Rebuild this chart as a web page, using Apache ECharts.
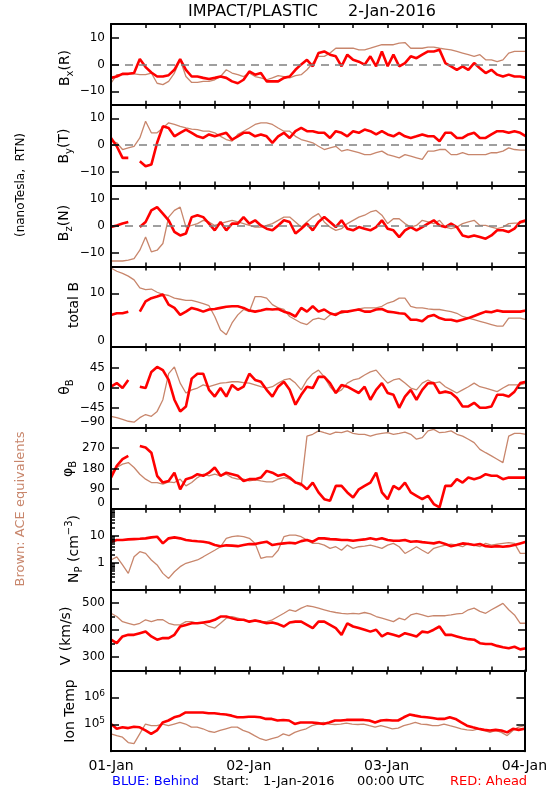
<!DOCTYPE html>
<html><head><meta charset="utf-8">
<script src="https://cdn.jsdelivr.net/npm/echarts@6/dist/echarts.min.js"></script>
<style>html,body{margin:0;padding:0;background:#fff}#c{width:550px;height:800px}</style>
</head><body><div id="c"></div>
<script>
// ---- data (hourly samples, hour 0 = 01-Jan 00:00) ----
const dayLabels = ['01-Jan', '02-Jan', '03-Jan', '04-Jan'];
const dayHours = [0, 24, 48, 72];
const tickHours = [0, 6, 12, 18, 24, 30, 36, 42, 48, 54, 60, 66, 72];
const hours = Array.from({length: 73}, (_, i) => i);

// Bx (R), nT
const bxAhead = [-5,-4.5,-3.5,-3.5,-3.2,2,-1,-3,-4.5,-4.5, -4,-2,2,-2,-4.5,-4.5,-5,-5.4,-5,-4.5, -5,-6.3,-7,-5.7,-2.6,-3.8,-3.2,-6.3,-6.3,-6.3, -5,-4.5,-2,0,1.7,-0.7,4.2,4.8,3.6,3, -0.7,3.6,1.7,1,-0.1,3,-0.7,4.8,-0.7,3.6, -0.7,0.5,3,2.3,3.6,4.8,4.8,5.4,0.5,-0.7, -2,-0.7,-2,0.5,-1.4,-3.2,-2,-3.8,-4.5,-3.8, -4.5,-4.5,-5];
const bxAce = [-7,-3.8,-3.8,-3.5,-3.5,-3.8,-3.8,-3.2,-7,-7.5, -6.3,-3.2,1.7,-4.5,-6.7,-6.7,-6.3,-6.3,-5.7,-4.5, -2,-3.2,-3.8,-4.5,-3.2,-4.5,-5,-5.7,-5,-4.2, -4.5,-5,-4.2,-3.8,-2,0.5,3,3,4.2,6, 6,6,6,5.4,5.4,6,6.7,7.3,7.3,7.3, 7.9,8.1,6,6,6,6.4,6.4,6,5.7,5.4, 4.8,4.2,3.6,3,3.6,1.7,1.7,1,1.7,4.2, 4.8,4.8,4.8];
// By (T), nT
const byAhead = [2.7,-0.4,-4.7,-4.7,null,-6,-7.8,-7.2,0.9,7, 6.4,3.3,4.6,5.8,4.6,3.3,2.7,4,3.3,4, 4.6,2.1,3.3,4.6,4.6,3.3,4,3.3,0.9,3.3, 4.6,2.7,5.2,6.4,5.2,5.2,4.6,4.6,2.7,5.2, 4.6,3.3,5.2,4.6,5.8,5.2,4,5.2,4,3.3, 4.6,3.3,2.7,3.3,4,3.3,3.3,1.5,4.6,4.6, 2.7,2.7,4,4.6,2.7,2.7,4,5.2,5.2,4.6, 5.2,4.6,3.3];
const byAce = [1.5,0.9,-1.6,-1,-0.4,2.7,8.9,4.6,4.6,6.4, 8.3,7.7,7,6.4,6,5.8,5.2,5.2,4.6,3.3, 2.1,1.5,4,5.2,6.4,7.7,8.3,8.3,7.7,6.4, 5.2,5.2,3.3,2.1,1.5,0.9,-0.4,-1.6,-1,-0.4, -2.2,-1.6,-2.2,-2.8,-3.5,-3.5,-2.8,-2.2,-3.5,-4.1, -4.7,-3.5,-4.1,-4.7,-5.3,-2.2,-2.2,-1.6,-1.6,-3.5, -3.5,-2.8,-3.5,-3.5,-3.5,-3.5,-2.8,-2.8,-2.2,-1, -1.6,-1.8,-1.8];
// Bz (N), nT
const bzAhead = [-0.4,0.2,0.9,1.5,null,-0.4,1.5,5.8,7,4.6, 2.1,-2.2,-3.5,-2.8,3.3,4,3.3,0.9,-1.6,1.5, -1.6,0.9,0.9,3.3,0.9,2.1,0.2,-1,-1.6,0.2, 2.1,1.5,-2.8,-1,0.9,-1.6,1.5,3.3,1.5,-0.4, 2.1,-1,-1.6,-0.4,-1,-1.6,-0.4,2.1,-1,-1.6, -4.1,-1.6,-0.4,-1.6,-0.4,0.9,2.1,0.2,-0.4,0.9, -0.4,-3.5,-4.1,-3.5,-4.1,-4.7,-3.5,-1.6,-1.6,-2.2, -1,1.5,2.1];
const bzAce = [-13,-13,-13,-12.7,-12.1,-9,-4.1,-9.6,-9,-6.5, 3.3,5.8,7,-0.4,0.2,0.9,2.1,1.5,0.2,0.9, 1.5,2.1,1.5,0.9,0.2,-0.4,-0.4,0.2,0.9,2.1, 3.3,3.3,1.5,-0.4,1.5,3.3,4.6,1.5,-0.4,-1.6, -1,0.9,2.1,3.3,4,5.2,5.8,4,0.9,2.7, 2.7,0.9,-0.4,0.2,2.1,1.5,0.9,2.1,-0.4,-1, -0.4,0.9,1.5,2.1,0.2,0.2,-0.4,-1,-0.4,0.9, 1.1,1.1,1.5];
// total B, nT
const btAhead = [6,6.3,6.3,6.6,null,6.6,8.5,9.1,9.4,9.8, 7.9,7.3,6,6.6,7.3,7,6.6,7,7.1,7.3, 7.5,7.6,7.6,7.3,6.8,6.6,6.8,7.1,7,7.1, 6.6,6.3,5.7,7.3,6.6,7.6,6.6,7,6.3,6, 6.6,6.6,6.8,7,6.6,6.6,7,7.1,6.6,6.5, 6.3,6.2,5.1,5.1,4.8,5.7,6,5.4,5.1,5.1, 4.8,5.1,5.4,5.8,6.2,6.6,6.5,6.8,6.6,6.6, 6.6,6.6,6.8];
const btAce = [14.7,14.1,13.7,13.2,12.5,11,10.7,10.8,10.2,9.8, 9.6,9.1,8.9,8.7,8.7,8.4,8.1,7.7,5.7,3.2, 2.3,4.5,6,7,6.6,9.4,9.4,9.1,7.9,7.3, 7,5.7,5.1,4.5,4.2,5.1,5.4,5.1,6,6.3, 6.3,6.6,6.8,7.1,7.3,7.3,7.3,7.6,8.2,8.5, 9.1,9.1,7.6,7.3,7.3,7.1,7,7,6.8,6.6, 6.3,5.7,5.4,5.1,4.8,4.5,4.2,3.9,3.9,5.4, 5.4,5.4,5.1];
// theta_B, degrees
const thAhead = [2,10,-1,17,null,2,-1,35,46,39, 17,-27,-53,-42,20,31,31,-5,-20,-1, -20,6,-5,2,31,17,13,-5,-20,2, 13,-5,-38,-16,2,-1,24,24,10,-12, 6,2,-5,-12,2,-27,-5,10,-12,-16, -45,-20,-5,-27,-5,10,10,-12,-9,-12, -23,-42,-42,-34,-45,-45,-42,-16,-16,-20, -9,10,13];
const thAce = [-64,-67,-71,-75,-77,-67,-60,-64,-53,-27, 31,46,10,-12,-5,-1,6,2,6,10, 11,13,13,11,10,6,2,-1,2,10, 17,20,10,-5,17,31,39,24,2,-12, -5,10,17,20,28,35,39,24,10,17, 20,10,-1,-5,10,17,10,13,2,-5, -12,-5,2,10,2,-1,-5,-9,-1,6, 6,6,10];
// phi_B, degrees
const phAhead = [139,191,221,236,null,280,273,250,147,117, 124,161,87,132,139,154,147,161,184,147, 161,154,147,124,132,132,139,169,161,147, 154,139,117,110,87,117,73,43,36,102, 102,73,50,87,102,117,161,73,43,102, 87,117,73,58,43,58,21,6,102,102, 132,117,139,132,139,154,147,147,132,139, 139,139,139];
const phAce = [161,184,199,206,184,154,132,117,117,110, 120,117,132,102,117,139,154,147,154,147, 154,139,132,132,124,129,124,120,120,132, 139,132,117,102,324,332,347,339,332,342, 339,347,336,332,332,324,332,336,339,332, 336,342,332,310,317,347,354,339,342,347, 332,324,310,295,265,250,236,221,206,324, 336,336,332];
// Np, cm^-3
const npAhead = [6.0,6.9,6.9,7.3,7.5,7.7,8.0,8.7,9.2,5.2, 8.0,8.7,8.0,6.9,6.5,6.2,6.0,5.5,4.5,4.1, 4.4,4.3,4.1,4.5,4.9,4.9,5.5,6.0,4.5,4.9, 5.2,5.5,5.2,6.3,6.9,6.0,8.0,8.0,7.5,7.3, 6.9,6.9,6.5,6.9,7.3,8.0,7.3,8.0,6.9,6.5, 6.5,6.9,6.0,6.2,5.8,5.5,5.2,5.8,4.9,4.1, 4.5,5.2,4.9,4.5,4.9,4.1,3.9,4.1,3.9,4.1, 4.5,5.2,6.0];
const npAce = [1.26,1.65,0.82,0.40,1.65,2.55,2.2,1.26,0.82,0.40, 0.26,0.46,0.71,0.95,1.1,1.26,1.65,2.2,2.9,3.9, 8.0,9.2,9.8,9.2,8.0,5.2,1.45,1.65,1.65,2.9, 9.2,10.5,10.5,9.2,6.9,5.2,5.2,4.5,3.4,3.9, 2.9,4.5,3.4,3.9,4.1,4.5,3.9,3.4,4.5,5.2, 3.9,2.2,2.9,3.9,2.9,2.2,3.4,3.9,4.5,4.9, 4.5,3.9,5.2,4.5,3.9,5.2,4.5,4.9,5.2,5.5, 5.2,2.2,2.2];
// V, km/s
const vAhead = [364,351,376,382,382,388,394,376,364,370, 370,382,413,419,425,425,428,431,438,450, 450,444,438,438,431,435,431,425,428,422, 413,428,431,431,419,407,431,431,419,407, 382,425,413,407,401,394,401,376,388,382, 376,388,382,376,394,391,401,413,382,382, 376,370,366,364,351,348,348,341,336,332, 338,328,332];
const vAce = [462,450,431,425,419,425,438,431,438,438, 425,419,419,431,431,425,425,413,407,425, 444,450,444,438,431,438,431,431,438,450, 462,475,469,481,490,487,481,475,469,465, 462,460,462,460,465,460,450,444,438,431, 444,438,456,462,456,450,453,453,453,456, 460,462,475,481,469,462,475,487,499,475, 456,425,425];
// Ion temperature, K
const tAhead = [1.03e5,6.8e4,7.7e4,7.2e4,8.1e4,7.7e4,5.9e4,4.4e4,5.9e4,1.17e5, 1.38e5,1.82e5,2.09e5,2.75e5,2.75e5,2.75e5,2.75e5,2.57e5,2.57e5,2.4e5, 2.29e5,2.09e5,1.82e5,1.82e5,1.91e5,1.91e5,1.82e5,1.58e5,1.58e5,1.38e5, 1.45e5,1.38e5,1.03e5,1.17e5,1.17e5,1.17e5,1.1e5,1.03e5,1.17e5,1.38e5, 1.38e5,1.45e5,1.45e5,1.45e5,1.45e5,1.38e5,1.17e5,1.38e5,1.45e5,1.38e5, 1.38e5,1.82e5,2.29e5,2.09e5,1.91e5,1.82e5,1.7e5,1.58e5,1.58e5,1.82e5, 1.58e5,1.17e5,8.9e4,7.7e4,6.8e4,6.2e4,5.9e4,6.2e4,5.9e4,5.0e4, 6.8e4,6.2e4,6.8e4];
const tAce = [4.4e4,3.8e4,3.3e4,2.1e4,1.9e4,4.4e4,1.02e5,8.9e4,8.9e4,1.02e5, 8.9e4,1.02e5,1.17e5,1.02e5,7.8e4,7.8e4,6.8e4,5.5e4,5.0e4,5.9e4, 6.8e4,7.8e4,7.8e4,5.9e4,5.0e4,3.8e4,2.9e4,2.5e4,2.9e4,3.3e4, 4.4e4,3.8e4,5.0e4,5.9e4,6.8e4,8.9e4,1.02e5,1.17e5,1.02e5,9.8e4, 1.02e5,1.1e5,1.02e5,9.8e4,1.02e5,8.9e4,7.8e4,8.9e4,7.8e4,6.8e4, 7.2e4,8.9e4,1.02e5,1.17e5,1.02e5,9.8e4,8.9e4,8.9e4,1.02e5,8.9e4, 7.8e4,6.8e4,6.2e4,5.9e4,6.8e4,5.9e4,5.0e4,5.9e4,5.0e4,3.8e4, 5.9e4,7.8e4,8.9e4];

// ---- panel setup ----
const FONT = 'DejaVu Sans';
const RED = '#ff0000', BROWN = '#c8866c';
const GRID_LEFT = 111, GRID_W = 415, TOP0 = 24, PH = 80.8;

const panels = [
  {title: 'B{sub|x}(R)', tx: 65, ty: 68, red: bxAhead, brown: bxAce, min: -15, max: 15, labels: [-10, 0, 10], ticks: [-10, 0, 10], zero: true},
  {title: 'B{sub|y}(T)', tx: 64, ty: 146, red: byAhead, brown: byAce, min: -15, max: 15, labels: [-10, 0, 10], ticks: [-10, 0, 10], zero: true},
  {title: 'B{sub|z}(N)', tx: 64, ty: 223, red: bzAhead, brown: bzAce, min: -15, max: 15, labels: [-10, 0, 10], ticks: [-10, 0, 10], zero: true},
  {title: 'total B', tx: 74, ty: 305, red: btAhead, brown: btAce, min: 0, max: 15, labels: [0, 10], ticks: [10]},
  {title: 'θ{sub|B}', tx: 65, ty: 387, red: thAhead, brown: thAce, min: -90, max: 90, labels: [-90, -45, 0, 45], ticks: [-45, 0, 45]},
  {title: 'φ{sub|B}', tx: 68, ty: 469, red: phAhead, brown: phAce, min: 0, max: 360, labels: [0, 90, 180, 270], ticks: [90, 180, 270]},
  {title: 'N{sub|P} (cm{sup|−3})', tx: 74, ty: 549, red: npAhead, brown: npAce, log: true, min: 0.1, max: 100, labels: [1, 10], ticks: [1, 10],
   minor: [0.2,0.3,0.4,0.5,0.6,0.7,0.8,0.9,2,3,4,5,6,7,8,9,20,30,40,50,60,70,80,90]},
  {title: 'V (km/s)', tx: 66, ty: 636, red: vAhead, brown: vAce, min: 250, max: 550, labels: [300, 400, 500], ticks: [300, 400, 500], minor: [350, 450]},
  {title: 'Ion Temp', tx: 70, ty: 711, red: tAhead, brown: tAce, log: true, min: 1e4, max: 1e7, labels: [1e5, 1e6], ticks: [1e5, 1e6], temp: true}
];

const richDef = {
  sub: {fontFamily: FONT, fontSize: 10, padding: [10, 0, 0, 0]},
  sup: {fontFamily: FONT, fontSize: 10, padding: [0, 0, 10, 0]}
};

const grids = [], xAxes = [], yAxes = [], series = [], graphics = [];
const tickStyle = {color: '#000', width: 1.5};
const frameLine = {show: true, onZero: false, lineStyle: {color: '#000', width: 2}};

function fmtNum(v) { return String(v).replace('-', '−'); }

panels.forEach((p, i) => {
  grids.push({left: GRID_LEFT, top: TOP0 + i * PH, width: GRID_W, height: PH, show: false});
  const xIdx = xAxes.length;
  const xBase = {gridIndex: i, type: 'value', min: 0, max: 72, z: 5,
    splitLine: {show: false}, axisLine: frameLine,
    axisTick: {show: true, inside: true, length: 4, lineStyle: tickStyle, customValues: tickHours}};
  xAxes.push(Object.assign({}, xBase, {position: 'bottom',
    axisLabel: i === panels.length - 1 ? {show: true, margin: 8, fontFamily: FONT, fontSize: 14, color: '#000',
      customValues: dayHours, formatter: v => dayLabels[dayHours.indexOf(v)]} : {show: false}}));
  xAxes.push(Object.assign({}, xBase, {position: 'top', axisLabel: {show: false}}));

  const yIdx = yAxes.length;
  const yBase = {gridIndex: i, type: p.log ? 'log' : 'value', min: p.min, max: p.max, z: 5,
    splitLine: {show: false}, axisLine: {show: false, onZero: false}};
  if (p.log) yBase.logBase = 10;
  const labelStyle = {show: true, margin: 6, fontFamily: FONT, fontSize: 12, color: '#000',
    rich: {sup: {fontFamily: FONT, fontSize: 9, padding: [0, 0, 8, 0]}}};
  ['left', 'right'].forEach(side => {
    const ax = Object.assign({}, yBase, {position: side, axisLine: frameLine});
    ax.axisTick = {show: true, inside: true, length: 8, lineStyle: tickStyle, customValues: p.ticks};
    if (side === 'left') {
      ax.axisLabel = Object.assign({}, labelStyle, {customValues: p.labels,
        formatter: v => p.temp ? '10{sup|' + Math.round(Math.log10(v)) + '}' : fmtNum(v)});
      if (p.labels[0] === p.min) ax.axisLabel.verticalAlignMinLabel = 'bottom';
    } else {
      ax.axisLabel = {show: false};
    }
    yAxes.push(ax);
    if (p.minor && side === 'left') {
      yAxes.push(Object.assign({}, yBase, {position: side, axisLabel: {show: false},
        axisTick: {show: true, inside: true, length: 4, lineStyle: tickStyle, customValues: p.minor}}));
    }
  });

  const brownSeries = {type: 'line', xAxisIndex: xIdx, yAxisIndex: yIdx, z: 2, silent: true,
    showSymbol: false, connectNulls: false, animation: false,
    lineStyle: {color: BROWN, width: 1.3}, itemStyle: {color: BROWN},
    data: hours.map(h => [h, p.brown[h]])};
  if (p.zero) {
    brownSeries.markLine = {silent: true, symbol: 'none', animation: false, label: {show: false},
      lineStyle: {color: '#808080', type: [8, 6], width: 1.5}, data: [{yAxis: 0}]};
  }
  series.push(brownSeries);
  series.push({type: 'line', xAxisIndex: xIdx, yAxisIndex: yIdx, z: 3, silent: true,
    showSymbol: false, connectNulls: false, animation: false,
    lineStyle: {color: RED, width: 2.6}, itemStyle: {color: RED},
    data: hours.map(h => [h, p.red[h]])});

  graphics.push({type: 'text', x: p.tx, y: p.ty, rotation: Math.PI / 2, silent: true,
    style: {text: p.title, fontFamily: FONT, fontSize: 14, fill: '#000',
      align: 'center', verticalAlign: 'middle', rich: richDef}});
});

function txt(x, y, text, size, color, rot) {
  return {type: 'text', x: x, y: y, rotation: rot || 0, silent: true,
    style: {text: text, fontFamily: FONT, fontSize: size, fill: color,
      align: rot ? 'center' : 'left', verticalAlign: 'middle'}};
}
graphics.push(txt(188, 12, 'IMPACT/PLASTIC', 16, '#000'));
graphics.push(txt(348, 12, '2-Jan-2016', 16, '#000'));
graphics.push(txt(21, 185, '(nanoTesla,  RTN)', 12, '#000', Math.PI / 2));
graphics.push(txt(21, 509, 'Brown: ACE equivalents', 13, BROWN, Math.PI / 2));
graphics.push(txt(112, 782, 'BLUE: Behind', 13, '#0000ff'));
graphics.push(txt(213, 782, 'Start:', 13, '#000'));
graphics.push(txt(263, 782, '1-Jan-2016', 13, '#000'));
graphics.push(txt(357, 782, '00:00 UTC', 13, '#000'));
graphics.push(txt(450, 782, 'RED: Ahead', 13, RED));

const chart = echarts.init(document.getElementById('c'), null, {renderer: 'canvas'});
chart.setOption({
  animation: false,
  backgroundColor: '#fff',
  grid: grids, xAxis: xAxes, yAxis: yAxes, series: series,
  graphic: {elements: graphics}
});
</script></body></html>
